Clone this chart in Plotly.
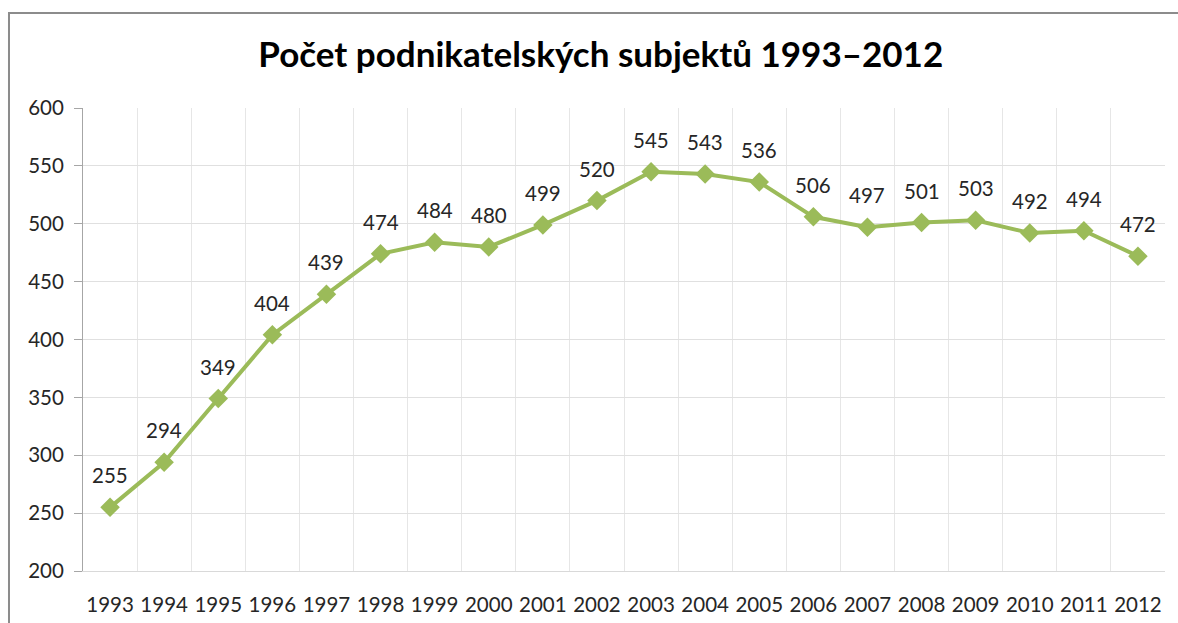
import plotly.graph_objects as go

# Number of business entities per year
years = [str(y) for y in range(1993, 2013)]
counts = [255, 294, 349, 404, 439, 474, 484, 480, 499, 520,
          545, 543, 536, 506, 497, 501, 503, 492, 494, 472]

title_text = "Počet podnikatelských subjektů 1993–2012"
y_ticks = [200, 250, 300, 350, 400, 450, 500, 550, 600]

green = "#9BBB59"
text_color = "#262626"
font_family = "Lato, 'Noto Sans', sans-serif"

fig = go.Figure()
fig.add_trace(go.Scatter(
    x=years,
    y=counts,
    mode="lines+markers",
    line=dict(color=green, width=4),
    marker=dict(symbol="diamond", size=15, color=green),
    hoverinfo="x+y",
    showlegend=False,
))

# value labels above each point (category serial index as x)
for i, v in enumerate(counts):
    fig.add_annotation(
        x=i, y=v, xref="x", yref="y", text=str(v), showarrow=False,
        yshift=32, font=dict(size=20.5, color=text_color, family=font_family),
    )

# chart frame (left and top edges visible)
fig.add_shape(
    type="rect", xref="paper", yref="paper",
    x0=-0.0684, x1=1.3, y0=-0.3, y1=1.205,
    line=dict(color="#8c8c8c", width=2), fillcolor="rgba(0,0,0,0)",
    layer="below",
)

fig.update_layout(
    width=1178, height=623,
    margin=dict(l=83, r=13, t=108, b=52),
    paper_bgcolor="white",
    plot_bgcolor="white",
    title=dict(
        text="<b>" + title_text + "</b>",
        x=0.51, xanchor="center", y=0.912, yanchor="middle",
        font=dict(size=35, color="#000000", family=font_family),
    ),
    xaxis=dict(
        type="category",
        tickson="boundaries",
        showgrid=True, gridcolor="#e6e6e6", gridwidth=1,
        showline=True, linecolor="#d9d9d9", linewidth=1,
        ticks="", tickangle=0, automargin=False,
        ticklabelstandoff=15,
        tickfont=dict(size=20.5, color=text_color, family=font_family),
        range=[-0.5, 19.5],
        fixedrange=True,
    ),
    yaxis=dict(
        range=[200, 600],
        tickvals=y_ticks,
        showgrid=True, gridcolor="#e0e0e0", gridwidth=1,
        showline=True, linecolor="#a6a6a6", linewidth=1,
        ticks="outside", ticklen=8, tickcolor="#a6a6a6",
        ticklabelstandoff=6,
        tickfont=dict(size=20.5, color=text_color, family=font_family),
        zeroline=False, automargin=False,
        fixedrange=True,
    ),
)

fig.write_html("out.html", config={"displayModeBar": False})
